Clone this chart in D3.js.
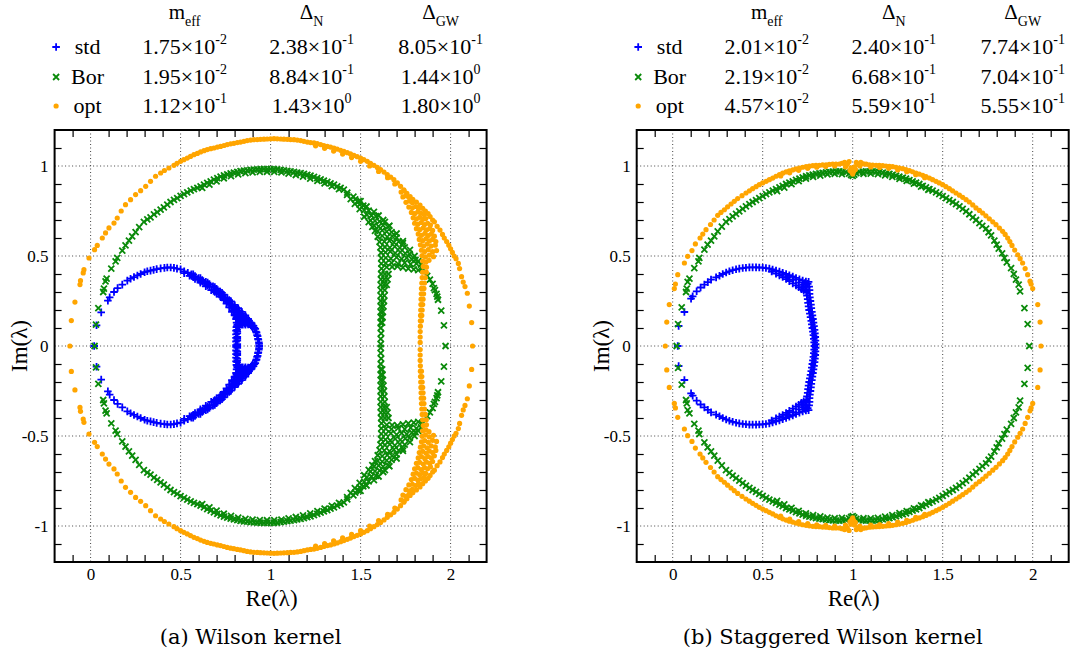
<!DOCTYPE html>
<html>
<head>
<meta charset="utf-8">
<script src="https://cdn.jsdelivr.net/npm/d3@7"></script>
<style>
  body { margin: 0; background: #fff; }
  svg { display: block; }
</style>
</head>
<body>
<svg id="fig" width="1073" height="657"></svg>
<script>
// ---------------------------------------------------------------------------
// Eigenvalue spectra of the overlap kernels (upper half plane, Im >= 0).
// The spectrum is symmetric under complex conjugation, so every point with
// Im > 0 is also drawn at its conjugate.
// ---------------------------------------------------------------------------

// (a) Wilson kernel
const wilsonStd = [
  [0.02,0.0],[0.033,0.115],[0.059,0.187],[0.096,0.252],[0.106,0.27],[0.13,0.30],[0.15,0.322],[0.176,0.341],
  [0.204,0.363],[0.222,0.374],[0.241,0.383],[0.26,0.392],[0.278,0.40],[0.30,0.41],[0.315,0.415],[0.333,0.419],
  [0.35,0.423],[0.367,0.427],[0.389,0.431],[0.41,0.434],[0.426,0.436],[0.445,0.436],[0.463,0.434],[0.48,0.43],[0.50,0.426],
  [0.52,0.415],[0.54,0.407],[0.56,0.398],[0.58,0.388],[0.60,0.378],[0.62,0.367],[0.64,0.356],[0.66,0.344],[0.68,0.332],
  [0.70,0.318],[0.72,0.303],[0.74,0.285],[0.76,0.266],[0.78,0.248],[0.80,0.228],[0.82,0.21],[0.84,0.19],[0.86,0.17],
  [0.875,0.15],[0.89,0.13],[0.90,0.115],[0.91,0.10],[0.918,0.08],[0.925,0.06],[0.93,0.04],[0.935,0.02],[0.937,0.0],
  [0.52,0.405],[0.55,0.39],[0.58,0.372],[0.61,0.352],[0.64,0.332],[0.67,0.31],[0.70,0.29],[0.72,0.275],[0.74,0.255],
  [0.755,0.235],[0.77,0.215],[0.785,0.19],[0.80,0.17],[0.808,0.15],[0.811,0.13],[0.813,0.11],[0.814,0.09],
  [0.815,0.07],[0.815,0.05],[0.815,0.03],[0.815,0.01],[0.815,0.0],[0.815,0.08],[0.815,0.04],[0.815,0.12],
  [0.56,0.392],[0.60,0.368],[0.63,0.35],[0.66,0.33],[0.69,0.31],[0.71,0.297],[0.73,0.28],[0.75,0.262],[0.77,0.24],
  [0.79,0.22],[0.81,0.20],[0.83,0.18],[0.85,0.16],[0.87,0.14],[0.89,0.12],
  [0.80,0.21],[0.80,0.19],[0.82,0.185],[0.82,0.165],[0.84,0.165],[0.83,0.145],[0.85,0.14],[0.86,0.125],
  [0.845,0.118],[0.875,0.12],[0.83,0.125],[0.825,0.105],[0.90,0.105],[0.865,0.15],[0.78,0.23],[0.76,0.25],
  [0.74,0.27],[0.72,0.29],[0.70,0.305],[0.65,0.345],[0.62,0.36],
  [0.57,0.398],[0.61,0.377],[0.65,0.352],[0.69,0.327],[0.73,0.295],[0.77,0.255],[0.80,0.222],[0.825,0.198],
  [0.845,0.178],[0.865,0.158],[0.88,0.14],[0.895,0.125],[0.905,0.112],[0.915,0.095],[0.922,0.075],[0.928,0.055],
  [0.932,0.035],[0.936,0.012],
  [0.57,0.382],[0.61,0.36],[0.65,0.337],[0.69,0.30],[0.73,0.27],[0.76,0.245],[0.78,0.215],[0.795,0.195],
  [0.80,0.175],[0.81,0.16],[0.823,0.14],[0.81,0.105],[0.808,0.085],[0.808,0.065],[0.808,0.045],[0.808,0.025],[0.808,0.005],
  [0.83,0.16],[0.85,0.15],[0.87,0.128],[0.885,0.122],[0.84,0.135],[0.855,0.125],[0.82,0.115],[0.825,0.125],
  [0.835,0.118],[0.86,0.118],[0.89,0.115],[0.895,0.108]
];

const wilsonBor = [
  [0.022,0.0],[0.03,0.119],[0.043,0.211],[0.07,0.30],[0.074,0.319],[0.083,0.359],[0.089,0.374],[0.115,0.43],
  [0.139,0.47],[0.148,0.489],[0.176,0.53],[0.194,0.559],[0.213,0.585],[0.231,0.609],[0.25,0.633],[0.27,0.66],
  [0.296,0.689],[0.315,0.703],[0.333,0.715],[0.352,0.731],[0.37,0.744],[0.389,0.758],[0.407,0.77],[0.426,0.786],
  [0.444,0.80],[0.463,0.812],[0.481,0.822],[0.50,0.834],[0.519,0.844],[0.537,0.854],[0.556,0.863],[0.574,0.871],
  [0.593,0.878],[0.611,0.887],[0.63,0.896],[0.648,0.906],[0.667,0.915],[0.685,0.924],[0.704,0.933],[0.722,0.941],
  [0.741,0.948],[0.759,0.954],[0.778,0.959],[0.796,0.963],[0.815,0.967],[0.833,0.971],[0.852,0.974],[0.87,0.976],
  [0.889,0.978],[0.907,0.98],[0.926,0.981],[0.944,0.982],[0.963,0.983],[0.981,0.983],[1.0,0.983],[1.019,0.982],
  [1.037,0.981],[1.056,0.979],[1.074,0.976],[1.093,0.973],[1.111,0.97],[1.13,0.967],[1.148,0.963],[1.167,0.96],
  [1.185,0.956],[1.204,0.951],[1.222,0.946],[1.241,0.94],[1.259,0.933],[1.278,0.926],[1.296,0.919],[1.315,0.912],
  [1.333,0.904],[1.352,0.896],[1.37,0.887],[1.389,0.878],[1.407,0.869],
  [0.62,0.878],[0.66,0.897],[0.70,0.915],[0.74,0.932],[0.78,0.944],[0.82,0.953],[0.86,0.96],[0.90,0.964],
  [0.94,0.967],[0.98,0.968],[1.02,0.967],[1.06,0.964],[1.10,0.958],[1.14,0.95],[1.18,0.941],[1.22,0.93],
  [1.26,0.917],[1.30,0.903],[1.34,0.888],[1.38,0.871],
  [1.426,0.852],[1.46,0.83],[1.5,0.805],[1.533,0.775],[1.574,0.745],[1.60,0.725],[1.626,0.70],[1.66,0.668],
  [1.70,0.625],[1.735,0.583],[1.774,0.534],[1.80,0.50],[1.82,0.472],[1.835,0.452],[1.842,0.432],
  [1.425,0.84],[1.445,0.816],[1.468,0.79],[1.495,0.76],[1.52,0.718],[1.545,0.688],[1.565,0.662],[1.58,0.64],
  [1.595,0.607],[1.605,0.578],[1.61,0.548],[1.614,0.518],[1.615,0.488],[1.615,0.458],[1.616,0.43],
  [1.645,0.438],[1.675,0.44],[1.705,0.442],[1.735,0.435],[1.765,0.43],[1.795,0.426],[1.82,0.422],
  [1.47,0.815],[1.49,0.805],[1.495,0.785],[1.515,0.78],[1.52,0.755],[1.545,0.752],[1.535,0.728],[1.56,0.725],[1.585,0.722],
  [1.555,0.698],[1.58,0.695],[1.605,0.692],[1.635,0.69],[1.575,0.668],[1.60,0.664],[1.625,0.67],[1.652,0.662],
  [1.595,0.638],[1.62,0.642],[1.645,0.636],[1.672,0.633],[1.62,0.612],[1.648,0.606],[1.675,0.61],[1.70,0.602],
  [1.632,0.58],[1.66,0.584],[1.685,0.576],[1.712,0.58],[1.735,0.572],[1.635,0.55],[1.662,0.546],[1.69,0.552],[1.718,0.545],[1.745,0.548],
  [1.638,0.52],[1.665,0.525],[1.692,0.516],[1.72,0.522],[1.748,0.515],[1.772,0.512],
  [1.64,0.49],[1.668,0.486],[1.70,0.492],[1.728,0.484],[1.756,0.49],[1.785,0.482],[1.805,0.478],
  [1.64,0.46],[1.672,0.462],[1.708,0.456],[1.745,0.462],[1.778,0.455],[1.81,0.458],
  [1.614,0.40],[1.635,0.40],[1.655,0.40],[1.613,0.37],[1.632,0.37],[1.65,0.37],[1.612,0.34],[1.63,0.34],[1.645,0.34],
  [1.612,0.31],[1.634,0.31],[1.612,0.28],[1.632,0.28],[1.612,0.25],[1.63,0.25],[1.612,0.22],[1.627,0.22],
  [1.612,0.19],[1.624,0.19],[1.612,0.16],[1.622,0.16],[1.612,0.13],[1.62,0.13],[1.612,0.10],[1.614,0.07],
  [1.612,0.04],[1.612,0.01],
  [1.87,0.39],[1.885,0.369],[1.90,0.345],[1.907,0.322],[1.913,0.31],[1.922,0.289],[1.926,0.274],[1.93,0.257],
  [1.948,0.196],[1.963,0.115],[1.972,0.0]
];

const wilsonOpt = [
  [-0.115,0.0],[-0.107,0.141],[-0.087,0.244],[-0.059,0.341],[-0.056,0.363],[-0.041,0.406],[-0.037,0.424],
  [-0.009,0.489],[0.022,0.535],[0.037,0.559],[0.065,0.60],[0.083,0.628],[0.102,0.656],[0.13,0.683],[0.148,0.711],
  [0.17,0.75],[0.194,0.785],[0.222,0.813],[0.25,0.841],[0.278,0.863],[0.306,0.887],[0.333,0.915],[0.361,0.943],
  [0.389,0.961],[0.41,0.975],[0.435,0.989],[0.463,1.004],[0.48,1.015],[0.5,1.026],[0.518,1.035],[0.537,1.044],
  [0.555,1.053],[0.574,1.063],[0.593,1.07],[0.611,1.078],[0.63,1.085],[0.648,1.091],[0.667,1.096],[0.685,1.10],
  [0.704,1.105],[0.722,1.109],[0.741,1.114],[0.759,1.119],[0.778,1.123],[0.796,1.126],[0.815,1.13],[0.833,1.133],
  [0.852,1.137],[0.87,1.141],[0.889,1.144],[0.907,1.146],[0.926,1.147],[0.944,1.148],[0.963,1.149],[0.981,1.15],
  [1.0,1.151],[1.019,1.152],[1.037,1.151],[1.056,1.15],[1.074,1.149],[1.093,1.148],[1.111,1.147],[1.13,1.146],
  [1.148,1.144],[1.167,1.141],[1.185,1.137],[1.204,1.133],[1.222,1.13],[1.241,1.128],[1.259,1.124],[1.278,1.119],
  [1.296,1.114],[1.315,1.109],[1.333,1.105],[1.352,1.10],[1.37,1.094],[1.389,1.087],[1.407,1.081],[1.426,1.074],
  [1.444,1.067],[1.463,1.059],[1.481,1.052],[1.5,1.044],[1.518,1.035],[1.537,1.026],[1.555,1.015],[1.574,1.004],
  [1.593,0.992],[1.611,0.98],[1.63,0.966],[1.648,0.952],[1.667,0.938],[1.685,0.924],[1.704,0.906],[1.722,0.887],[1.74,0.868],
  [1.25,1.112],[1.30,1.098],[1.35,1.083],[1.40,1.066],[1.45,1.047],[1.50,1.026],[1.55,1.0],[1.60,0.97],[1.65,0.935],[1.69,0.90],
  [1.757,0.848],[1.775,0.83],[1.79,0.815],[1.81,0.80],[1.83,0.783],[1.845,0.765],[1.86,0.75],[1.875,0.735],
  [1.886,0.719],[1.90,0.70],[1.91,0.69],[1.925,0.665],[1.941,0.644],[1.955,0.62],[1.965,0.60],[1.978,0.58],
  [1.99,0.56],[2.0,0.54],[2.01,0.52],[2.02,0.50],[2.03,0.485],[2.043,0.459],[2.05,0.43],[2.061,0.385],
  [2.07,0.355],[2.08,0.33],[2.093,0.293],[2.104,0.222],[2.117,0.13],[2.122,0.0],
  [1.725,0.855],[1.742,0.862],[1.735,0.828],[1.752,0.835],[1.768,0.826],[1.752,0.798],[1.772,0.805],[1.788,0.796],
  [1.768,0.772],[1.788,0.768],[1.806,0.775],[1.822,0.764],[1.782,0.742],[1.80,0.735],[1.818,0.745],[1.835,0.738],[1.852,0.73],
  [1.792,0.712],[1.81,0.706],[1.828,0.715],[1.846,0.704],[1.862,0.708],
  [1.80,0.682],[1.818,0.676],[1.836,0.686],[1.855,0.675],[1.872,0.682],[1.888,0.672],
  [1.81,0.652],[1.828,0.646],[1.848,0.656],[1.866,0.645],[1.884,0.652],[1.9,0.642],
  [1.82,0.622],[1.838,0.615],[1.857,0.626],[1.875,0.614],[1.893,0.622],[1.91,0.61],
  [1.826,0.592],[1.845,0.585],[1.864,0.596],[1.882,0.584],[1.9,0.592],[1.918,0.58],
  [1.832,0.562],[1.85,0.555],[1.87,0.566],[1.892,0.555],[1.915,0.56],
  [1.838,0.532],[1.856,0.525],[1.876,0.535],[1.9,0.524],[1.922,0.53],
  [1.842,0.502],[1.86,0.495],[1.882,0.505],[1.905,0.496],[1.845,0.472],[1.863,0.466],[1.88,0.476],[1.848,0.442],[1.866,0.438],
  [1.845,0.41],[1.865,0.41],[1.842,0.38],[1.86,0.38],[1.84,0.35],[1.855,0.35],[1.838,0.32],[1.852,0.32],
  [1.837,0.29],[1.85,0.29],[1.836,0.26],[1.847,0.26],[1.835,0.23],[1.845,0.23],[1.834,0.20],[1.842,0.20],
  [1.833,0.17],[1.84,0.17],[1.832,0.14],[1.838,0.14],[1.832,0.11],[1.831,0.08],[1.831,0.05],[1.831,0.02]
];

// (b) Staggered Wilson kernel
const staggStd = [
  [0.028,0.0],[0.033,0.111],[0.065,0.189],[0.102,0.263],[0.111,0.276],[0.133,0.304],[0.155,0.325],[0.176,0.341],
  [0.195,0.355],[0.213,0.369],[0.241,0.381],[0.26,0.39],[0.278,0.40],[0.297,0.408],[0.315,0.415],[0.333,0.421],
  [0.352,0.426],[0.37,0.43],[0.389,0.433],[0.407,0.435],[0.426,0.437],[0.444,0.437],[0.463,0.437],[0.481,0.436],
  [0.5,0.435],[0.518,0.433],[0.537,0.43],[0.555,0.425],[0.574,0.419],
  [0.593,0.413],[0.611,0.406],[0.63,0.40],[0.648,0.393],[0.667,0.386],[0.685,0.378],[0.704,0.37],[0.722,0.363],
  [0.74,0.358],[0.755,0.356],
  [0.55,0.414],[0.574,0.402],[0.593,0.392],[0.611,0.383],[0.63,0.372],[0.648,0.36],[0.667,0.348],[0.685,0.337],
  [0.70,0.327],[0.715,0.316],[0.728,0.307],
  [0.61,0.395],[0.64,0.382],[0.67,0.368],[0.70,0.352],[0.725,0.34],[0.745,0.33],[0.735,0.35],[0.75,0.345],
  [0.72,0.325],[0.74,0.315],
  [0.742,0.30],[0.746,0.28],[0.75,0.26],[0.752,0.24],[0.755,0.22],[0.758,0.20],[0.762,0.18],[0.766,0.16],
  [0.77,0.14],[0.773,0.12],[0.776,0.10],[0.779,0.08],[0.782,0.06],[0.784,0.04],[0.786,0.02],[0.787,0.0],
  [0.758,0.33],[0.76,0.31],[0.76,0.29],[0.762,0.27],[0.765,0.25],[0.768,0.23],[0.77,0.21],[0.773,0.19],
  [0.776,0.17],[0.779,0.15],[0.782,0.13],[0.785,0.11],[0.788,0.09],[0.79,0.07],[0.792,0.05],[0.793,0.03],[0.794,0.01]
];

const staggBor = [
  [0.022,0.0],[0.03,0.122],[0.05,0.215],[0.074,0.30],[0.078,0.319],[0.083,0.356],[0.093,0.374],[0.12,0.433],
  [0.143,0.47],[0.148,0.489],[0.176,0.535],[0.194,0.563],[0.213,0.585],[0.231,0.609],[0.25,0.637],[0.273,0.663],
  [0.296,0.689],[0.315,0.705],[0.333,0.72],[0.352,0.734],[0.37,0.748],[0.389,0.762],[0.407,0.776],[0.426,0.788],
  [0.444,0.80],[0.463,0.811],[0.481,0.822],[0.50,0.833],[0.519,0.844],[0.537,0.854],[0.556,0.863],[0.574,0.872],
  [0.593,0.881],[0.611,0.89],[0.63,0.90],[0.648,0.908],[0.667,0.915],[0.685,0.923],[0.704,0.93],[0.722,0.937],
  [0.741,0.943],[0.759,0.948],[0.778,0.952],[0.796,0.956],[0.815,0.959],[0.833,0.962],[0.852,0.965],[0.87,0.967],
  [0.889,0.969],[0.907,0.97],[0.926,0.97],[0.944,0.969],[0.963,0.966],[0.98,0.958],[0.991,0.95],[1.0,0.945],
  [1.009,0.952],[1.02,0.96],[1.037,0.967],[1.056,0.969],[1.074,0.97],[1.093,0.97],[1.111,0.97],[1.13,0.969],
  [1.148,0.967],[1.167,0.963],[1.185,0.959],[1.204,0.956],[1.222,0.952],[1.241,0.947],[1.259,0.941],[1.278,0.936],
  [1.296,0.93],[1.315,0.922],[1.333,0.915],[1.352,0.908],[1.37,0.90],[1.389,0.89],[1.407,0.881],[1.426,0.872],
  [1.444,0.863],[1.463,0.854],[1.481,0.844],[1.50,0.833],[1.519,0.822],[1.537,0.811],[1.556,0.80],[1.574,0.788],
  [1.593,0.776],[1.611,0.762],[1.63,0.748],[1.648,0.732],[1.667,0.715],[1.685,0.70],[1.704,0.683],[1.72,0.667],
  [1.741,0.652],[1.755,0.632],[1.769,0.615],[1.787,0.585],[1.80,0.563],[1.811,0.541],[1.83,0.515],[1.843,0.489],
  [1.856,0.465],[1.88,0.433],[1.895,0.40],[1.907,0.369],[1.922,0.341],[1.93,0.304],[1.954,0.211],[1.972,0.122],[1.981,0.0],
  [0.58,0.86],[0.62,0.88],[0.66,0.899],[0.70,0.916],[0.74,0.93],[0.78,0.94],[0.82,0.947],[0.86,0.953],[0.90,0.957],
  [0.94,0.955],[1.06,0.957],[1.10,0.958],[1.14,0.955],[1.18,0.948],[1.22,0.94],[1.26,0.929],[1.30,0.917],
  [1.34,0.902],[1.38,0.886],[1.42,0.868]
];

const staggOpt = [
  [-0.041,0.0],[-0.033,0.133],[-0.019,0.23],[0.009,0.319],[0.015,0.344],[0.028,0.396],[0.065,0.461],[0.083,0.498],
  [0.107,0.53],[0.126,0.567],[0.152,0.60],[0.167,0.622],[0.185,0.646],[0.21,0.675],[0.23,0.70],[0.25,0.726],
  [0.268,0.742],[0.287,0.757],[0.305,0.773],[0.324,0.789],[0.342,0.804],[0.361,0.819],[0.385,0.835],[0.407,0.85],
  [0.426,0.862],[0.444,0.874],[0.463,0.885],[0.481,0.896],[0.50,0.906],[0.519,0.915],[0.537,0.924],[0.556,0.933],
  [0.574,0.943],[0.593,0.952],[0.611,0.96],[0.63,0.967],[0.648,0.973],[0.667,0.978],[0.685,0.984],[0.704,0.989],
  [0.722,0.993],[0.741,0.996],[0.759,0.999],[0.778,1.002],[0.796,1.003],[0.815,1.004],[0.833,1.006],[0.852,1.007],
  [0.87,1.009],[0.889,1.011],[0.907,1.011],[0.926,1.011],[0.94,1.015],[0.955,1.02],[0.97,1.01],[0.98,1.025],
  [0.99,0.99],[0.995,0.965],[1.0,0.955],[1.005,0.97],[1.01,0.995],[1.02,1.02],[1.03,1.01],[1.045,1.02],
  [1.06,1.012],[1.075,1.01],[1.093,1.007],[1.111,1.005],[1.13,1.004],[1.148,1.003],[1.167,1.002],[1.185,1.0],
  [1.204,0.998],[1.222,0.996],[1.241,0.993],[1.259,0.989],[1.278,0.985],[1.296,0.98],[1.315,0.974],[1.333,0.968],
  [1.352,0.961],[1.37,0.955],[1.389,0.948],[1.407,0.941],[1.426,0.933],[1.444,0.924],[1.463,0.915],[1.481,0.906],
  [1.5,0.896],[1.518,0.885],[1.537,0.874],[1.555,0.862],[1.574,0.85],[1.593,0.838],[1.611,0.826],[1.63,0.813],
  [1.648,0.80],[1.667,0.784],[1.685,0.767],[1.704,0.753],[1.722,0.739],[1.74,0.723],[1.759,0.707],[1.778,0.69],
  [1.796,0.674],[1.815,0.655],[1.833,0.637],[1.847,0.62],[1.861,0.60],[1.873,0.58],[1.885,0.559],[1.90,0.533],
  [1.917,0.507],[1.93,0.485],[1.944,0.461],[1.958,0.43],[1.972,0.396],[1.985,0.36],[1.991,0.344],[2.0,0.319],
  [2.028,0.23],[2.041,0.133],[2.046,0.0],
  [0.60,0.945],[0.65,0.962],[0.70,0.976],[0.75,0.987],[0.80,0.993],[0.85,0.997],[0.90,1.0],[0.96,0.995],
  [0.985,0.975],[1.015,0.98],[1.04,1.0],[1.10,0.995],[1.15,0.992],[1.20,0.987],[1.25,0.978],[1.30,0.968],
  [1.35,0.952],[1.40,0.935]
];

// Legend table: one row per kernel variant
const seriesNames = ["std", "Bor", "opt"];
const columnSymbols = [["m", "eff"], ["\u0394", "N"], ["\u0394", "GW"]];
// [mantissa, exponent] per row
const wilsonMeff = [[1.75, -2], [1.95, -2], [1.12, -1]];
const wilsonDeltaN = [[2.38, -1], [8.84, -1], [1.43, 0]];
const wilsonDeltaGW = [[8.05, -1], [1.44, 0], [1.80, 0]];
const staggMeff = [[2.01, -2], [2.19, -2], [4.57, -2]];
const staggDeltaN = [[2.40, -1], [6.68, -1], [5.59, -1]];
const staggDeltaGW = [[7.74, -1], [7.04, -1], [5.55, -1]];

// Axes
const xDomain = [-0.2, 2.2];
const yDomain = [-1.2, 1.2];
const xTickValues = [0, 0.5, 1, 1.5, 2];
const xTickLabels = ["0", "0.5", "1", "1.5", "2"];
const yTickValues = [-1, -0.5, 0, 0.5, 1];
const yTickLabels = ["-1", "-0.5", "0", "0.5", "1"];
const captions = ["(a) Wilson kernel", "(b) Staggered Wilson kernel"];

// ---------------------------------------------------------------------------
const SERIF = "Liberation Serif, Times New Roman, serif";
const CAPTION_FONT = "DejaVu Serif, serif";
const colors = ["#0000ff", "#0a8a0a", "#ffa500"];
const PLOT = 432, TOP = 130;

const svg = d3.select("#fig");

const markerDraw = [
  // '+'
  (g, c) => g.append("path").attr("d", "M-3.8,0H3.8M0,-3.8V3.8").attr("stroke", c).attr("stroke-width", 1.8).attr("fill", "none"),
  // 'x'
  (g, c) => g.append("path").attr("d", "M-3,-3L3,3M-3,3L3,-3").attr("stroke", c).attr("stroke-width", 1.8).attr("fill", "none"),
  // dot
  (g, c) => g.append("circle").attr("r", 2.6).attr("fill", c)
];

function withConjugates(pts) {
  return pts.flatMap(([re, im]) => im === 0 ? [[re, 0]] : [[re, im], [re, -im]]);
}

function drawPanel(left, series, stats, caption) {
  const x = d3.scaleLinear().domain(xDomain).range([left, left + PLOT]);
  const y = d3.scaleLinear().domain(yDomain).range([TOP + PLOT, TOP]);
  const g = svg.append("g");

  // dotted grid at the major ticks
  const grid = g.append("g").attr("stroke", "#444").attr("stroke-width", 1).attr("stroke-dasharray", "1,2.5");
  grid.selectAll("line.gx").data(xTickValues).join("line")
    .attr("x1", d => x(d)).attr("x2", d => x(d)).attr("y1", TOP).attr("y2", TOP + PLOT);
  grid.selectAll("line.gy").data(yTickValues).join("line")
    .attr("y1", d => y(d)).attr("y2", d => y(d)).attr("x1", left).attr("x2", left + PLOT);

  // minor ticks on all four sides, pointing inward
  const minorX = d3.range(-1, 22).map(i => i / 10).filter(v => Math.abs(v * 2 - Math.round(v * 2)) > 1e-6);
  const minorY = d3.range(-11, 12).map(i => i / 10).filter(v => Math.abs(v * 2 - Math.round(v * 2)) > 1e-6);
  const tickAxes = [
    [d3.axisBottom(x).tickValues(minorX), `translate(0,${TOP + PLOT})`],
    [d3.axisTop(x).tickValues(minorX), `translate(0,${TOP})`],
    [d3.axisLeft(y).tickValues(minorY), `translate(${left},0)`],
    [d3.axisRight(y).tickValues(minorY), `translate(${left + PLOT},0)`]
  ];
  tickAxes.forEach(([ax, tr]) => {
    const a = g.append("g").attr("transform", tr).call(ax.tickSize(-7).tickFormat(""));
    a.select(".domain").remove();
    a.selectAll("line").attr("stroke", "#000").attr("stroke-width", 1.2);
  });

  // tick labels
  const bx = g.append("g").attr("transform", `translate(0,${TOP + PLOT})`)
    .call(d3.axisBottom(x).tickValues(xTickValues).tickSize(0).tickPadding(6)
      .tickFormat((d, i) => xTickLabels[i]));
  const ly = g.append("g").attr("transform", `translate(${left},0)`)
    .call(d3.axisLeft(y).tickValues(yTickValues).tickSize(0).tickPadding(6)
      .tickFormat((d, i) => yTickLabels[i]));
  [bx, ly].forEach(a => {
    a.select(".domain").remove();
    a.attr("font-family", SERIF).attr("font-size", 17);
    a.selectAll("text").attr("fill", "#000");
  });

  // eigenvalues
  const clip = "clip" + Math.round(left);
  svg.append("clipPath").attr("id", clip).append("rect")
    .attr("x", left).attr("y", TOP).attr("width", PLOT).attr("height", PLOT);
  const pts = g.append("g").attr("clip-path", `url(#${clip})`);
  series.forEach((s, k) => {
    pts.append("g").selectAll("g").data(withConjugates(s)).join("g")
      .attr("transform", d => `translate(${x(d[0])},${y(d[1])})`)
      .each(function () { markerDraw[k](d3.select(this), colors[k]); });
  });

  // frame
  g.append("rect").attr("x", left).attr("y", TOP).attr("width", PLOT).attr("height", PLOT)
    .attr("fill", "none").attr("stroke", "#000").attr("stroke-width", 2);

  // axis titles
  g.append("text").attr("x", left + PLOT / 2 + 1).attr("y", 606)
    .attr("text-anchor", "middle").attr("font-family", SERIF).attr("font-size", 23).text("Re(\u03bb)");
  g.append("text").attr("transform", `translate(${left - 28},${TOP + PLOT / 2}) rotate(-90)`)
    .attr("text-anchor", "middle").attr("font-family", SERIF).attr("font-size", 23).text("Im(\u03bb)");

  // caption
  g.append("text").attr("x", left + PLOT / 2 - 20).attr("y", 644)
    .attr("text-anchor", "middle").attr("font-family", CAPTION_FONT).attr("font-size", 21).text(caption);

  // legend table
  const colX = [left + 130, left + 257, left + 386];
  const rowBase = [54, 84, 113];
  const lg = g.append("g").attr("font-family", SERIF).attr("font-size", 22).attr("fill", "#000");
  columnSymbols.forEach(([sym, sub], j) => {
    const t = lg.append("text").attr("x", colX[j]).attr("y", 19).attr("text-anchor", "middle").attr("font-size", 21);
    t.append("tspan").text(sym);
    t.append("tspan").attr("dy", 7).attr("font-size", 14).text(sub);
  });
  seriesNames.forEach((name, i) => {
    const m = lg.append("g").attr("transform", `translate(${left + 1.5},${rowBase[i] - 7})`);
    markerDraw[i](m, colors[i]);
    lg.append("text").attr("x", left + 33).attr("y", rowBase[i]).attr("text-anchor", "middle").text(name);
    stats.forEach((col, j) => {
      const [mant, ex] = col[i];
      const t = lg.append("text").attr("x", colX[j]).attr("y", rowBase[i]).attr("text-anchor", "middle");
      t.append("tspan").text(mant.toFixed(2) + "\u00d710");
      t.append("tspan").attr("dy", -10).attr("font-size", 14).text(String(ex));
    });
  });
}

drawPanel(54.6, [wilsonStd, wilsonBor, wilsonOpt], [wilsonMeff, wilsonDeltaN, wilsonDeltaGW], captions[0]);
drawPanel(636.7, [staggStd, staggBor, staggOpt], [staggMeff, staggDeltaN, staggDeltaGW], captions[1]);
</script>
</body>
</html>
